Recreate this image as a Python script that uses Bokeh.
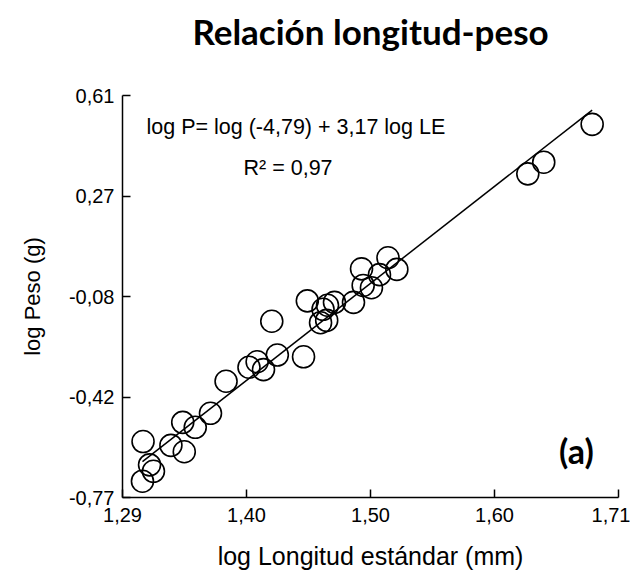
from bokeh.plotting import figure
from bokeh.models import Range1d, FixedTicker, Label
from bokeh.embed import file_html
from bokeh.resources import INLINE

# data (log standard length in mm, log weight in g)
log_le = [1.3074, 1.3069, 1.3162, 1.3129, 1.3310, 1.3423, 1.3410, 1.3516, 1.3645,
          1.3777, 1.3971, 1.4040, 1.4094, 1.4211, 1.4164, 1.4433, 1.4465, 1.4577,
          1.4629, 1.4598, 1.4695, 1.4636, 1.4856, 1.4924, 1.4938, 1.5008, 1.5076,
          1.5148, 1.5223, 1.6332, 1.6467, 1.6877]
log_peso = [-0.578, -0.714, -0.680, -0.658, -0.591, -0.613, -0.512, -0.529, -0.481,
            -0.371, -0.323, -0.304, -0.331, -0.281, -0.165, -0.287, -0.095, -0.170,
            -0.162, -0.124, -0.100, -0.110, -0.100, 0.015, -0.042, -0.050, -0.005,
            0.053, 0.013, 0.341, 0.381, 0.511]

x_ticks = [1.29, 1.395, 1.50, 1.605, 1.71]
x_tick_labels = ["1,29", "1,40", "1,50", "1,60", "1,71"]
y_ticks = [-0.77, -0.425, -0.08, 0.265, 0.61]
y_tick_labels = ["-0,77", "-0,42", "-0,08", "0,27", "0,61"]

intercept = -4.79
slope = 3.17

title_text = "Relación longitud-peso"
equation_text = "log P= log (-4,79) + 3,17 log LE"
r2_text = "R² = 0,97"
panel_text = "(a)"

p = figure(width=630, height=572, output_backend="svg", toolbar_location=None,
           x_range=Range1d(x_ticks[0], x_ticks[-1]),
           y_range=Range1d(y_ticks[0], y_ticks[-1]),
           min_border_left=122, min_border_right=12,
           min_border_top=95, min_border_bottom=71)

p.outline_line_color = None
p.xgrid.visible = False
p.ygrid.visible = False
p.background_fill_color = "white"
p.border_fill_color = "white"

# trailing empty line keeps the title high above the frame
p.title.text = title_text + "\n"
p.title.align = "center"
p.title.vertical_align = "top"
p.title.text_font = "Lato"
p.title.text_font_style = "bold"
p.title.text_font_size = "35px"
p.title.text_color = "black"
p.title.standoff = 0

p.xaxis.ticker = FixedTicker(ticks=x_ticks)
p.yaxis.ticker = FixedTicker(ticks=y_ticks)
p.xaxis.major_label_overrides = dict(zip(x_ticks, x_tick_labels))
p.yaxis.major_label_overrides = dict(zip(y_ticks, y_tick_labels))
p.xaxis.axis_label = "log Longitud estándar (mm)"
p.yaxis.axis_label = "log Peso (g)"

for ax in (p.xaxis[0], p.yaxis[0]):
    ax.major_tick_in = 8
    ax.major_tick_out = 0
    ax.minor_tick_line_color = None
    ax.axis_line_width = 1.5
    ax.axis_line_color = "black"
    ax.major_tick_line_width = 1.5
    ax.major_tick_line_color = "black"
    ax.major_label_text_font = "Liberation Sans"
    ax.major_label_text_font_size = "20px"
    ax.major_label_text_color = "black"
    ax.axis_label_text_font = "Liberation Sans"
    ax.axis_label_text_font_style = "normal"
    ax.axis_label_text_color = "black"

p.xaxis.axis_label_text_font_size = "25px"
p.yaxis.axis_label_text_font_size = "22px"
p.xaxis.major_label_standoff = 10
p.yaxis.major_label_standoff = 8
p.xaxis.axis_label_standoff = 17
p.yaxis.axis_label_standoff = 21

xmin, xmax = min(log_le), max(log_le)
p.line([xmin, xmax], [intercept + slope * xmin, intercept + slope * xmax],
       line_color="black", line_width=1.5)

p.scatter(log_le, log_peso, marker="circle", size=22, fill_color=None,
          line_color="black", line_width=1.6)

p.add_layout(Label(x=1.3103, y=0.501, text=equation_text, text_font="Liberation Sans",
                   text_font_size="21.5px", text_baseline="middle", text_align="left",
                   text_color="black"))
p.add_layout(Label(x=1.3925, y=0.362, text=r2_text, text_font="Liberation Sans",
                   text_font_size="21.5px", text_baseline="middle", text_align="left",
                   text_color="black"))
p.add_layout(Label(x=1.6744, y=-0.607, text=panel_text, text_font="Lato",
                   text_font_style="bold", text_font_size="34px",
                   text_baseline="middle", text_align="center", text_color="black"))

open("out.html", "w").write(file_html(p, INLINE))
